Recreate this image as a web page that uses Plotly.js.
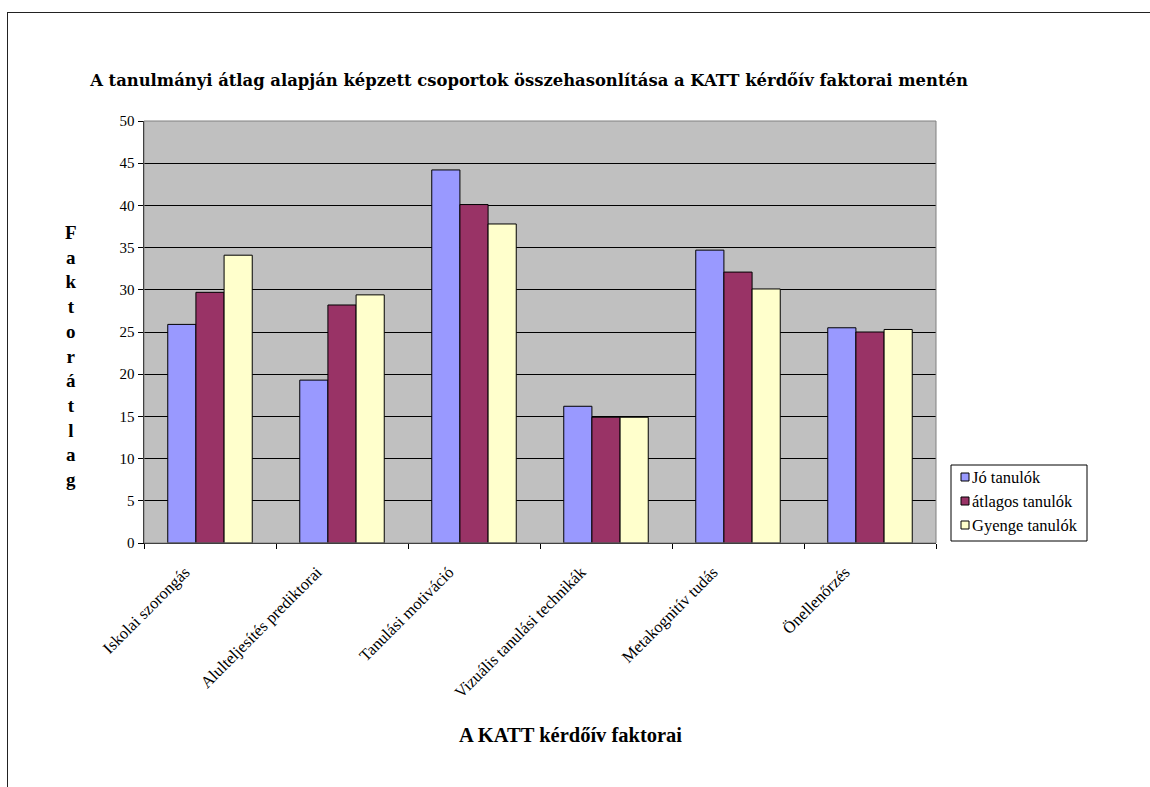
<!DOCTYPE html>
<html>
<head>
<meta charset="utf-8">
<script src="https://cdn.plot.ly/plotly-3.0.1.min.js"></script>
<style>
html,body{margin:0;padding:0;background:#fff;}
#chart{position:absolute;left:0;top:0;width:1150px;height:787px;}
#frame{position:absolute;left:7px;top:12px;width:1200px;height:900px;border-left:1.5px solid #222;border-top:1.5px solid #222;pointer-events:none;}
</style>
</head>
<body>
<div id="chart"></div>
<div id="frame"></div>
<script>
const categories = ["Iskolai szorongás","Alulteljesítés prediktorai","Tanulási motiváció","Vizuális tanulási technikák","Metakognitív tudás","Önellenőrzés"];
const seriesNames = ["Jó tanulók","átlagos tanulók","Gyenge tanulók"];
const joTanulok = [25.9, 19.3, 44.2, 16.2, 34.7, 25.5];
const atlagosTanulok = [29.7, 28.2, 40.1, 14.9, 32.1, 25.0];
const gyengeTanulok = [34.1, 29.4, 37.8, 14.9, 30.1, 25.3];
const colors = ["#9999FF","#993366","#FFFFCC"];
const yTicks = [0,5,10,15,20,25,30,35,40,45,50];
const yLabelText = "Faktorátlag";
const xTitleText = "A KATT kérdőív faktorai";
const titleText = "A tanulmányi átlag alapján képzett csoportok összehasonlítása a KATT kérdőív faktorai mentén";

const serif = "Liberation Serif, Times New Roman, serif";
const values = [joTanulok, atlagosTanulok, gyengeTanulok];
const traces = values.map((v,i)=>({
  type:"bar", name:seriesNames[i], x:categories, y:v, showlegend:false,
  marker:{color:colors[i], line:{color:"#000", width:1}}
}));

// plot area in pixels: x 144..936, y 121..543
const W = 792, H = 422;
const px = x => (x-144)/W;
const py = y => (543-y)/H;

const shapes = [
  {type:"rect", xref:"paper", yref:"paper", x0:0, x1:1, y0:0, y1:1, line:{color:"#808080", width:1}, fillcolor:"rgba(0,0,0,0)", layer:"above"},
  {type:"rect", xref:"paper", yref:"paper", x0:px(951), x1:px(1087), y0:py(465), y1:py(541), line:{color:"#000", width:1}, fillcolor:"#fff"}
];
const annotations = [
  {text:"<b>"+yLabelText.split("").join("<br>")+"</b>", xref:"paper", yref:"paper", x:px(71), y:py(356),
    xanchor:"center", yanchor:"middle", showarrow:false, align:"center",
    font:{family:serif, size:19, color:"#000"}},
  {text:"<b>"+xTitleText+"</b>", xref:"paper", yref:"paper", x:px(570), y:py(735),
    xanchor:"center", yanchor:"middle", showarrow:false, font:{family:serif, size:20.5, color:"#000"}}
];
const legendY = [477, 501, 525];
seriesNames.forEach((n,i)=>{
  shapes.push({type:"rect", xref:"paper", yref:"paper", x0:px(961), x1:px(969), y0:py(legendY[i]+4), y1:py(legendY[i]-4),
    line:{color:"#000", width:1}, fillcolor:colors[i]});
  annotations.push({text:n, xref:"paper", yref:"paper", x:px(970), y:py(legendY[i]), xanchor:"left", yanchor:"middle",
    showarrow:false, font:{family:serif, size:16.5, color:"#000"}});
});

const layout = {
  width:1150, height:787,
  margin:{l:144, r:214, t:121, b:244},
  paper_bgcolor:"#fff", plot_bgcolor:"#C0C0C0",
  barmode:"group", bargap:0.36, bargroupgap:0,
  font:{family:serif, color:"#000", size:13},
  title:{text:"<b>"+titleText+"</b>",
    font:{family:"DejaVu Serif, serif", size:16.4, color:"#000"},
    x:529/1150, xanchor:"center", xref:"container", y:1-80/787, yanchor:"middle", yref:"container"},
  xaxis:{type:"category", tickangle:-45, ticks:"outside", ticklen:5, tickcolor:"#000",
    tickson:"boundaries", showline:true, linecolor:"#000", linewidth:1, mirror:false,
    ticklabelstandoff:12, ticklabelshift:-25,
    tickfont:{family:serif, size:16.5, color:"#000"},
    showgrid:false, automargin:false},
  yaxis:{range:[0,50], tickvals:yTicks, ticktext:yTicks.map(String), ticks:"outside", ticklen:5, tickcolor:"#000",
    showline:true, linecolor:"#000", linewidth:1.5, showgrid:true, gridcolor:"#000", gridwidth:1,
    zeroline:false, tickfont:{family:serif, size:15, color:"#000"}, automargin:false},
  showlegend:false,
  annotations:annotations,
  shapes:shapes
};
Plotly.newPlot("chart", traces, layout, {displayModeBar:false, staticPlot:true});
</script>
</body>
</html>
